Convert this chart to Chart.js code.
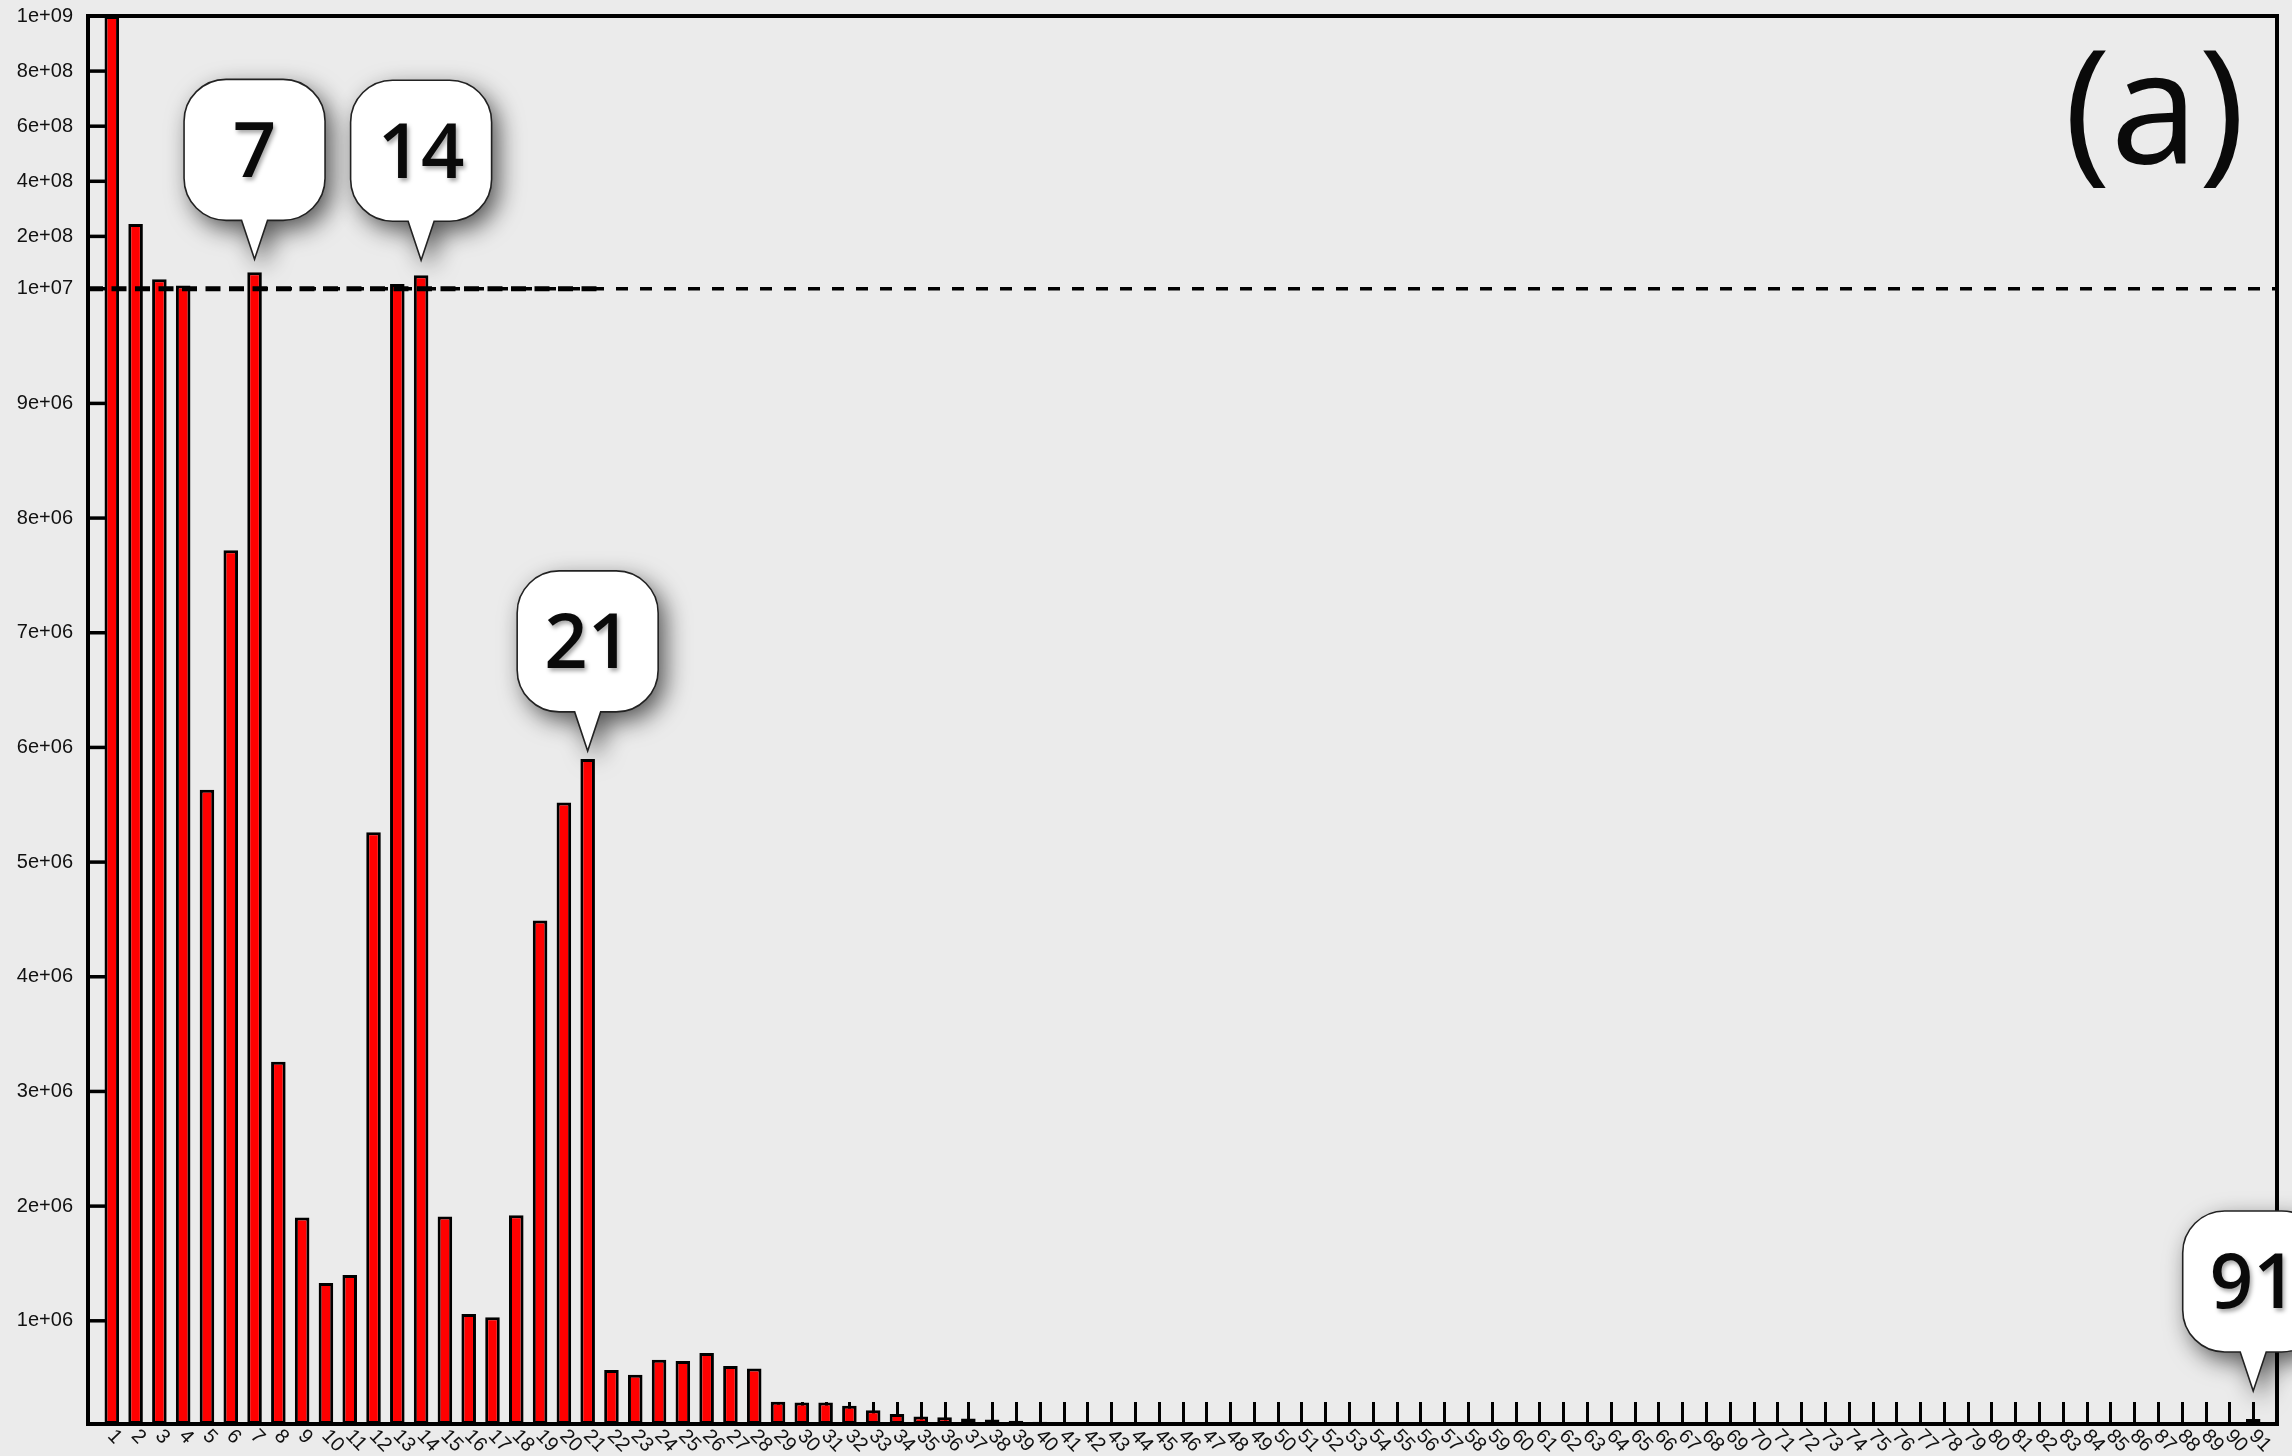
<!DOCTYPE html>
<html><head><meta charset="utf-8">
<script src="https://cdn.jsdelivr.net/npm/chart.js@4.4.1/dist/chart.umd.min.js"></script>
<style>html,body{margin:0;padding:0;background:#ebebeb;overflow:hidden}canvas{display:block}</style>
</head><body>
<canvas id="c" width="2292" height="1456"></canvas>
<script>
// ---------- data ----------
const categories = [1,2,3,4,5,6,7,8,9,10,11,12,13,14,15,16,17,18,19,20,
  21,22,23,24,25,26,27,28,29,30,31,32,33,34,35,36,37,38,39,40,
  41,42,43,44,45,46,47,48,49,50,51,52,53,54,55,56,57,58,59,60,
  61,62,63,64,65,66,67,68,69,70,71,72,73,74,75,76,77,78,79,80,
  81,82,83,84,85,86,87,88,89,90,91];
const values = [
  1.0e9, 2.45e8, 4.4e7, 2.2e7, 5.63e6, 7.72e6, 6.95e7, 3.26e6, 1.90e6, 1.33e6,
  1.40e6, 5.26e6, 2.7e7, 5.9e7, 1.91e6, 1.06e6, 1.03e6, 1.92e6, 4.49e6, 5.52e6,
  5.90e6, 5.7e5, 5.3e5, 6.6e5, 6.5e5, 7.2e5, 6.06e5, 5.85e5, 2.95e5, 2.88e5,
  2.88e5, 2.6e5, 2.19e5, 1.87e5, 1.66e5, 1.58e5, 1.49e5, 1.40e5, 1.29e5, 1.20e5,
  0, 0, 0, 0, 0, 0, 0, 0, 0, 0,
  0, 0, 0, 0, 0, 0, 0, 0, 0, 0,
  0, 0, 0, 0, 0, 0, 0, 0, 0, 0,
  0, 0, 0, 0, 0, 0, 0, 0, 0, 0,
  0, 0, 0, 0, 0, 0, 0, 0, 0, 0,
  1.44e5];
const yTickValues = [1e6, 2e6, 3e6, 4e6, 5e6, 6e6, 7e6, 8e6, 9e6, 1e7, 2e8, 4e8, 6e8, 8e8, 1e9];
const yTickLabels = ['1e+06','2e+06','3e+06','4e+06','5e+06','6e+06','7e+06','8e+06','9e+06','1e+07','2e+08','4e+08','6e+08','8e+08','1e+09'];
const referenceValue = 1e7;
const callouts = [7, 14, 21, 91];
const calloutGaps = [13, 15, 8, 28];
const panelLabel = '(a)';

// broken axis: linear 1e5..1e7 on lower part, linear 1e7..1e9 on upper part
const Y_MIN = 1e5, Y_BREAK = 1e7, Y_MAX = 1e9, BREAK_FRAC = 0.8063;

class BrokenLinearScale extends Chart.LinearScale {
  buildTicks() { return yTickValues.map(v => ({ value: v })); }
  valueToDecimal(v) {
    if (v <= Y_BREAK) {
      const c = Math.max(v, Y_MIN);
      return BREAK_FRAC * (c - Y_MIN) / (Y_BREAK - Y_MIN);
    }
    const c = Math.min(v, Y_MAX);
    return BREAK_FRAC + (1 - BREAK_FRAC) * (c - Y_BREAK) / (Y_MAX - Y_BREAK);
  }
  getPixelForValue(v) {
    if (v === null || v === undefined || isNaN(v)) return NaN;
    return this.getPixelForDecimal(this.valueToDecimal(v));
  }
  getValueForPixel(p) {
    const d = this.getDecimalForPixel(p);
    if (d <= BREAK_FRAC) return Y_MIN + d / BREAK_FRAC * (Y_BREAK - Y_MIN);
    return Y_BREAK + (d - BREAK_FRAC) / (1 - BREAK_FRAC) * (Y_MAX - Y_BREAK);
  }
}
BrokenLinearScale.id = 'brokenLinear';
BrokenLinearScale.defaults = {};
Chart.register(BrokenLinearScale);

const FONT = "'Liberation Sans', Arial, Helvetica, sans-serif";

const decorPlugin = {
  id: 'decor',
  beforeDatasetsDraw(chart) {
    const {ctx, chartArea: a, scales: {x, y}} = chart;
    ctx.save();
    ctx.strokeStyle = '#000';
    ctx.lineWidth = 3;
    categories.forEach(c => {
      const px = Math.round(x.getPixelForValue(c)) + 0.5;
      ctx.beginPath(); ctx.moveTo(px, a.bottom); ctx.lineTo(px, a.bottom - 22); ctx.stroke();
    });
    ctx.lineWidth = 3.5;
    y.ticks.forEach(t => {
      const py = y.getPixelForValue(t.value);
      ctx.beginPath(); ctx.moveTo(a.left, py); ctx.lineTo(a.left + 17, py); ctx.stroke();
    });
    ctx.restore();
  },
  afterDatasetsDraw(chart) {
    const {ctx, chartArea: a, scales: {x, y}} = chart;
    ctx.save();
    // reference dashed line
    const ry = y.getPixelForValue(referenceValue);
    ctx.strokeStyle = '#000';
    ctx.setLineDash([12, 12]);
    ctx.lineWidth = 3.5;
    ctx.beginPath(); ctx.moveTo(a.left, ry); ctx.lineTo(a.right, ry); ctx.stroke();
    ctx.setLineDash([15, 8.5]);
    ctx.lineWidth = 5;
    ctx.beginPath(); ctx.moveTo(a.left, ry); ctx.lineTo(x.getPixelForValue(21.45), ry); ctx.stroke();
    ctx.setLineDash([]);
    // frame
    ctx.lineWidth = 4;
    ctx.strokeRect(a.left, a.top, a.right - a.left, a.bottom - a.top);
    // x labels (rotated clockwise)
    ctx.fillStyle = '#111';
    ctx.font = '20px ' + FONT;
    ctx.textAlign = 'left';
    ctx.textBaseline = 'middle';
    categories.forEach(c => {
      const px = x.getPixelForValue(c);
      ctx.save();
      ctx.translate(px - 1, a.bottom + 9);
      ctx.rotate(46 * Math.PI / 180);
      ctx.fillText(String(c), 0, 0);
      ctx.restore();
    });
    // panel label
    ctx.font = "400 158px 'Open Sans', sans-serif";
    ctx.textAlign = 'right';
    ctx.textBaseline = 'alphabetic';
    ctx.fillStyle = '#0a0a0a';
    ctx.fillText(panelLabel, a.right - 32, 163);
    // callouts
    callouts.forEach((c, i) => {
      const idx = categories.indexOf(c);
      const cx = x.getPixelForValue(c);
      const tipY = y.getPixelForValue(values[idx]) - calloutGaps[i];
      drawBubble(ctx, cx, tipY, String(c));
    });
    ctx.restore();
  }
};

function bubblePath(ctx, cx, tipY) {
  const W = 141, H = 141, R = 42, P = 39, B = 13;
  const bottom = tipY - P, top = bottom - H, left = cx - W / 2, right = cx + W / 2;
  ctx.beginPath();
  ctx.moveTo(left + R, top);
  ctx.lineTo(right - R, top);
  ctx.arcTo(right, top, right, top + R, R);
  ctx.lineTo(right, bottom - R);
  ctx.arcTo(right, bottom, right - R, bottom, R);
  ctx.lineTo(cx + B, bottom);
  ctx.lineTo(cx, tipY);
  ctx.lineTo(cx - B, bottom);
  ctx.lineTo(left + R, bottom);
  ctx.arcTo(left, bottom, left, bottom - R, R);
  ctx.lineTo(left, top + R);
  ctx.arcTo(left, top, left + R, top, R);
  ctx.closePath();
  return (top + bottom) / 2;
}

function drawBubble(ctx, cx, tipY, text) {
  ctx.save();
  ctx.shadowColor = 'rgba(0,0,0,0.65)';
  ctx.shadowBlur = 24;
  ctx.shadowOffsetX = 7;
  ctx.shadowOffsetY = 9;
  const midY = bubblePath(ctx, cx, tipY);
  ctx.fillStyle = '#ffffff';
  ctx.fill();
  ctx.shadowColor = 'transparent';
  ctx.lineWidth = 1.6;
  ctx.strokeStyle = '#222';
  ctx.stroke();
  ctx.shadowColor = 'rgba(0,0,0,0.35)';
  ctx.shadowBlur = 4;
  ctx.shadowOffsetX = 2;
  ctx.shadowOffsetY = 3;
  ctx.fillStyle = '#0a0a0a';
  ctx.font = "600 76px 'Open Sans', sans-serif";
  ctx.textAlign = 'center';
  ctx.textBaseline = 'alphabetic';
  ctx.fillText(text, cx, midY + 27);
  ctx.restore();
}

new Chart(document.getElementById('c'), {
  type: 'bar',
  data: {
    datasets: [{
      data: categories.map((c, i) => ({ x: c, y: values[i] })),
      backgroundColor: '#ff0000',
      borderColor: '#000000',
      borderWidth: 3,
      borderSkipped: false,
      barPercentage: 0.68,
      categoryPercentage: 0.9
    }]
  },
  options: {
    responsive: false,
    devicePixelRatio: 1,
    animation: false,
    events: [],
    layout: { padding: { left: 0, top: 16, right: 15, bottom: 0 } },
    plugins: { legend: { display: false }, tooltip: { enabled: false } },
    scales: {
      x: {
        type: 'linear', min: 0, max: 92, offset: false,
        grid: { display: false }, border: { display: false },
        ticks: { display: false },
        afterFit(s) { s.height = 32; s.paddingLeft = 0; s.paddingRight = 0; }
      },
      y: {
        type: 'brokenLinear',
        grid: { display: false, drawTicks: false }, border: { display: false },
        ticks: {
          autoSkip: false, padding: 15, color: '#111',
          font: { family: FONT, size: 20 },
          callback: (v, i) => yTickLabels[i]
        },
        afterFit(s) { s.width = 88; s.paddingTop = 0; s.paddingBottom = 0; }
      }
    }
  },
  plugins: [decorPlugin]
});
</script>
</body></html>
